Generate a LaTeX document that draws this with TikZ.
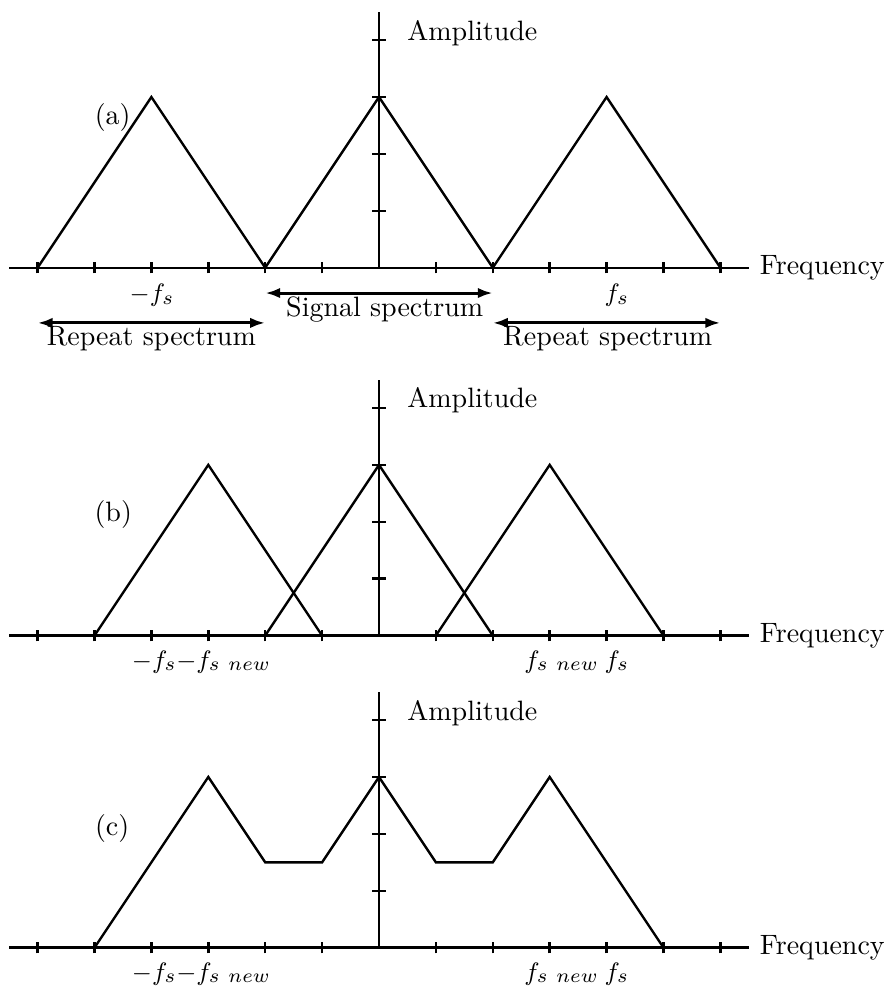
\documentclass[tikz,border=0pt]{standalone}
\usetikzlibrary{arrows.meta}
\begin{document}
\begin{tikzpicture}[x=1cm,y=1cm,line width=1.2pt,
  lbl/.style={scale=1.4,font=\fontsize{10}{12}\selectfont},
  mlbl/.style={scale=1.4,font=\fontsize{9.3}{11}\selectfont,inner sep=0pt},
  dbl/.style={line width=1.5pt,{Latex[length=7.5pt,width=5.2pt]}-{Latex[length=7.5pt,width=5.2pt]}}]
\useasboundingbox (-6.661,-12.624) rectangle (8.875,4.705);
% ---------- panel (a)
\begin{scope}
  \coordinate (axL-a) at (-6.5,0);
  \coordinate (axO-a) at (0,0);
  \coordinate (axT-a) at (0,4.5);
  \node[lbl,anchor=west] (freq-a) at (6.5,0) {Frequency};
  \draw (axL-a) -- (freq-a.west);
  \draw (axO-a) -- (axT-a);
  \foreach \x in {-6,...,-1,1,2,...,6} \draw (\x,-0.1) -- (\x,0.1);
  \foreach \y in {1,...,4} \draw (-0.12,\y) -- (0.12,\y);
  \node[lbl,anchor=base west,inner sep=0pt] (amp-a) at (0.47,4) {Amplitude};
  \node[lbl] (lab-a) at (-4.68,2.64) {(a)};
  \draw (-6,0) -- (-4,3) -- (-2,0) -- (0,3) -- (2,0) -- (4,3) -- (6,0);
  \node[mlbl] (mfs-a) at (-3.99,-0.48) {$-f_s$};
  \node[mlbl] (fs-a) at (4.18,-0.48) {$f_s$};
  \coordinate (sigL) at (-2,-0.445);
  \coordinate (sigR) at (2,-0.445);
  \draw[dbl] (sigL) -- (sigR);
  \node[lbl,anchor=base] (sig) at (0.1,-0.86) {Signal spectrum};
  \coordinate (repLa) at (-6,-0.97);
  \coordinate (repLb) at (-2,-0.97);
  \draw[dbl] (repLa) -- (repLb);
  \node[lbl,anchor=base] (repL) at (-4,-1.37) {Repeat spectrum};
  \coordinate (repRa) at (2,-0.97);
  \coordinate (repRb) at (6,-0.97);
  \draw[dbl] (repRa) -- (repRb);
  \node[lbl,anchor=base] (repR) at (4.02,-1.37) {Repeat spectrum};
\end{scope}
% ---------- panel (b)
\begin{scope}[yshift=-6.465cm]
  \coordinate (axL-b) at (-6.5,0);
  \coordinate (axO-b) at (0,0);
  \coordinate (axT-b) at (0,4.5);
  \node[lbl,anchor=west] (freq-b) at (6.5,0) {Frequency};
  \draw (axL-b) -- (freq-b.west);
  \draw (axO-b) -- (axT-b);
  \foreach \x in {-6,...,-1,1,2,...,6} \draw (\x,-0.1) -- (\x,0.1);
  \foreach \y in {1,...,4} \draw (-0.12,\y) -- (0.12,\y);
  \node[lbl,anchor=base west,inner sep=0pt] (amp-b) at (0.47,4) {Amplitude};
  \node[lbl] (lab-b) at (-4.67,2.12) {(b)};
  \draw (-5,0) -- (-3,3) -- (-1,0);
  \draw (-2,0) -- (0,3) -- (2,0);
  \draw (1,0) -- (3,3) -- (5,0);
  \node[mlbl] (mfs-b) at (-3.95,-0.46) {$-f_s$};
  \node[mlbl] (mfsn-b) at (-2.73,-0.46) {$-f_{s\ new}$};
  \node[mlbl] (fsn-b) at (3.21,-0.46) {$f_{s\ new}$};
  \node[mlbl] (fs-b) at (4.18,-0.46) {$f_s$};
\end{scope}
% ---------- panel (c)
\begin{scope}[yshift=-11.95cm]
  \coordinate (axL-c) at (-6.5,0);
  \coordinate (axO-c) at (0,0);
  \coordinate (axT-c) at (0,4.5);
  \node[lbl,anchor=west] (freq-c) at (6.5,0) {Frequency};
  \draw (axL-c) -- (freq-c.west);
  \draw (axO-c) -- (axT-c);
  \foreach \x in {-6,...,-1,1,2,...,6} \draw (\x,-0.1) -- (\x,0.1);
  \foreach \y in {1,...,4} \draw (-0.12,\y) -- (0.12,\y);
  \node[lbl,anchor=base west,inner sep=0pt] (amp-c) at (0.47,4) {Amplitude};
  \node[lbl] (lab-c) at (-4.69,2.09) {(c)};
  \draw (-5,0) -- (-3,3) -- (-2,1.5) -- (-1,1.5) -- (0,3) -- (1,1.5) -- (2,1.5) -- (3,3) -- (5,0);
  \node[mlbl] (mfs-c) at (-3.95,-0.46) {$-f_s$};
  \node[mlbl] (mfsn-c) at (-2.73,-0.46) {$-f_{s\ new}$};
  \node[mlbl] (fsn-c) at (3.21,-0.46) {$f_{s\ new}$};
  \node[mlbl] (fs-c) at (4.18,-0.46) {$f_s$};
\end{scope}
\end{tikzpicture}
\end{document}
